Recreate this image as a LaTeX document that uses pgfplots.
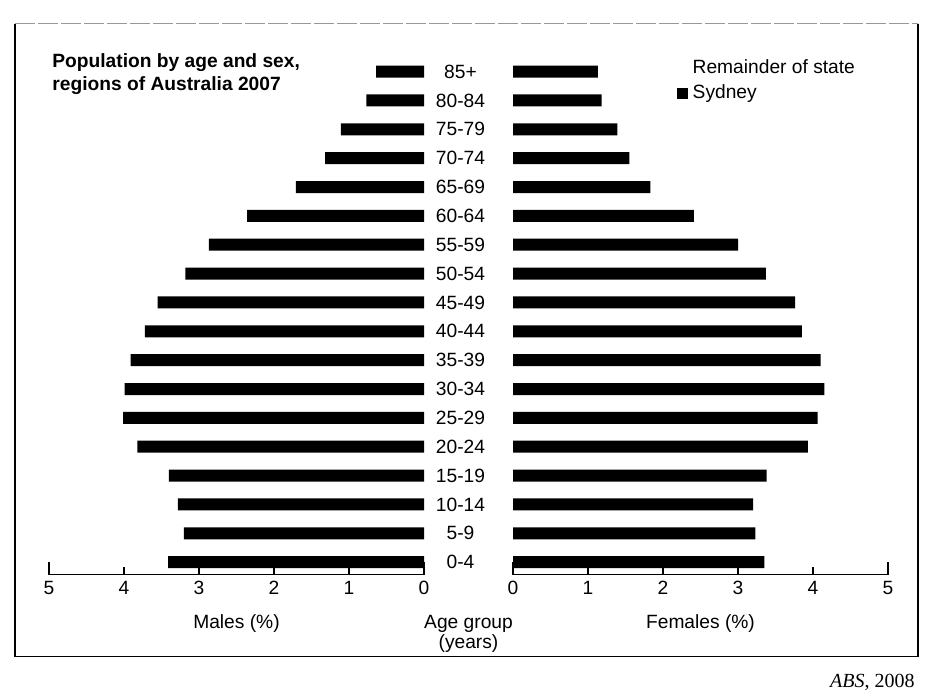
\documentclass[border=0pt]{standalone}
\usepackage{pgfplots}
\pgfplotsset{compat=1.18}
\usepackage{pgfplotstable}
\usepackage{fontspec}
\setmainfont{Liberation Sans}
\newfontfamily\serifabs{Liberation Serif}

% idx 0 = 0-4 ... 17 = 85+
\pgfplotstableread{
idx male female
0 3.41 3.35
1 3.20 3.23
2 3.28 3.20
3 3.40 3.38
4 3.82 3.93
5 4.01 4.06
6 3.99 4.15
7 3.91 4.10
8 3.72 3.85
9 3.55 3.76
10 3.18 3.37
11 2.87 3.00
12 2.36 2.41
13 1.71 1.83
14 1.32 1.55
15 1.11 1.39
16 0.77 1.18
17 0.64 1.13
}\pop

\newcommand\fs{\fontsize{9.6}{11}\selectfont}

\pgfplotsset{
 pyr/.style={
   scale only axis, x=37.5pt, y=14.425pt,
   xmin=0, xmax=5, ymin=-0.43, ymax=17.6,
   axis x line*=bottom,
   xtick={0,1,2,3,4,5},
   xtick align=inside,
   major tick length=4pt,
   extra x ticks={0,5}, extra x tick labels={},
   extra x tick style={major tick length=6.5pt},
   tick style={black, line width=0.75pt},
   axis line style={black, line width=0.75pt},
   tick label style={font=\fs},
   label style={font=\fs},
   /pgf/number format/assume math mode=true,
   xbar, bar width=6pt,
   clip=false,
   xlabel style={at={(axis description cs:0.5,0)}, anchor=center, yshift=-24.5pt},
 }
}

\begin{document}
\begin{tikzpicture}
\path[use as bounding box] (0pt,0pt) rectangle (468pt,346.5pt);

% frame
\draw[line width=0.6pt] (459pt,334.75pt) -- (459pt,18.25pt) -- (7.5pt,18.25pt) -- (7.5pt,334.75pt);
\draw[line width=0.4pt, black!40, dash pattern=on 10pt off 1.5pt] (7.5pt,334.75pt) -- (459pt,334.75pt);

% males
\begin{axis}[pyr, x dir=reverse, hide y axis,
  anchor=south west, at={(24.5pt,59.25pt)},
  xlabel={Males (\%)}]
\addplot[fill=black, draw=none] table[x=male, y=idx] {\pop};
\end{axis}

% females
\begin{axis}[pyr,
  anchor=south west, at={(256.5pt,59.25pt)},
  axis y line*=left, y axis line style={draw=none},
  major y tick style={draw=none},
  ytick={0,...,17},
  yticklabels={0-4,5-9,10-14,15-19,20-24,25-29,30-34,35-39,40-44,45-49,50-54,55-59,60-64,65-69,70-74,75-79,80-84,85+},
  yticklabel style={anchor=center, xshift=-22.25pt},
  xlabel={Females (\%)},
  legend style={at={(axis cs:2.18,17.5)}, anchor=north west, draw=none, fill=none,
     inner sep=0pt, row sep=1.5pt, font=\fs,
     nodes={text height=7pt, text depth=2pt, inner sep=1pt},
     /tikz/every odd column/.append style={column sep=1.5pt}},
  legend cell align=left,
  legend image code/.code={\path[draw=none,#1] (0pt,-2.7pt) rectangle (5.4pt,2.7pt);}]
\addlegendimage{draw=white, fill=white}
\addlegendentry{Remainder of state}
\addplot[fill=black, draw=none] table[x=female, y=idx] {\pop};
\addlegendentry{Sydney}
\end{axis}

% title
\node[anchor=west, align=left, inner sep=0pt, font=\bfseries\fontsize{9.6}{11.5}\selectfont]
  at (26pt,309.5pt) {Population by age and sex,\\regions of Australia 2007};

% centre label
\node[align=center, inner sep=0pt, font=\fontsize{9.6}{10}\selectfont]
  at (234.25pt,29.75pt) {Age group\\(years)};

% source
\node[anchor=base east, inner sep=0pt, font=\serifabs\fontsize{10}{12}\selectfont]
  at (457.5pt,3pt) {\textit{ABS}, 2008};
\end{tikzpicture}
\end{document}
